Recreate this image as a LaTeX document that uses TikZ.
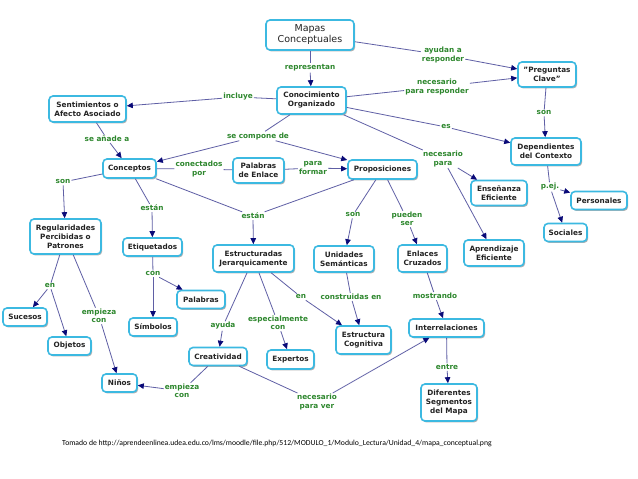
\documentclass[tikz,border=0pt]{standalone}
\usepackage{fontspec}
\setmainfont{DejaVu Sans}
\newfontfamily\calib{Carlito}
\usetikzlibrary{arrows.meta,shadows}
\definecolor{boxc}{RGB}{60,185,225}
\definecolor{linec}{RGB}{95,95,165}
\definecolor{arrc}{RGB}{10,10,120}
\definecolor{lblc}{RGB}{45,135,45}
\definecolor{txtc}{RGB}{35,35,35}
\begin{document}
\begin{tikzpicture}[x=1pt,y=-1pt,
  bx/.style 2 args={draw=boxc, line width=1.6pt, rounded corners=4pt, fill=white, text=txtc,
    font=\bfseries\fontsize{7.3}{9}\selectfont, align=center, minimum width=#1, minimum height=#2,
    inner sep=1pt, drop shadow={shadow xshift=1.2pt, shadow yshift=-1.4pt, opacity=0.3, fill=black}},
  lb/.style={text=lblc, font=\bfseries\fontsize{7.3}{8.5}\selectfont, align=center, inner sep=1pt, fill=white},
  ln/.style={draw=linec, line width=0.8pt},
  ar/.style={ln, -{Triangle[length=6pt,width=5.5pt,color=arrc]}},
]
\fill[white] (0,0) rectangle (638,479);
\useasboundingbox (0,0) rectangle (638,479);

% concept boxes
\node[bx={88}{30}, font=\fontsize{9.5}{11}\selectfont] (mapas) at (310,35) {Mapas\\Conceptuales};
\node[bx={69}{27}] (cono) at (311.5,100.5) {Conocimiento\\Organizado};
\node[bx={58}{25}] (preg) at (547,74.5) {\symbol{34}Preguntas\\Clave\symbol{34}};
\node[bx={77}{26}] (sent) at (87.5,109) {Sentimientos o\\Afecto Asociado};
\node[bx={70}{27}] (dep) at (546,151.5) {Dependientes\\del Contexto};
\node[bx={53}{19}] (conc) at (129.5,168.5) {Conceptos};
\node[bx={51}{25}] (pal) at (258.5,170.5) {Palabras\\de Enlace};
\node[bx={69}{19}] (prop) at (382.5,169.5) {Proposiciones};
\node[bx={56}{25}] (ens) at (499,193) {Enseñanza\\Eficiente};
\node[bx={56}{18}] (pers) at (599,200.5) {Personales};
\node[bx={43}{18}] (soc) at (565.5,232.5) {Sociales};
\node[bx={71}{35}] (reg) at (65.5,236.5) {Regularidades\\Percibidas o\\Patrones};
\node[bx={59}{18}] (etiq) at (152.5,247) {Etiquetados};
\node[bx={81}{27}] (estr) at (253.5,258.5) {Estructuradas\\Jerarquicamente};
\node[bx={60}{26}] (uni) at (344,259) {Unidades\\Semánticas};
\node[bx={49}{27}] (enl) at (422.5,258.5) {Enlaces\\Cruzados};
\node[bx={60}{26}] (apr) at (494,253) {Aprendizaje\\Eficiente};
\node[bx={44}{18}] (suc) at (25,317) {Sucesos};
\node[bx={43}{18}] (obj) at (69.5,346) {Objetos};
\node[bx={48}{18}] (palab) at (201,299.5) {Palabras};
\node[bx={48}{18}] (sim) at (153,327) {Símbolos};
\node[bx={58}{18}] (crea) at (218,356.5) {Creatividad};
\node[bx={47}{19}] (exp) at (290.5,359.5) {Expertos};
\node[bx={35}{18}] (ninos) at (119.5,383) {Niños};
\node[bx={55}{28}] (ecog) at (363.5,340) {Estructura\\Cognitiva};
\node[bx={75}{18}] (inter) at (446.5,328) {Interrelaciones};
\node[bx={56}{37}] (dif) at (449,402.5) {Diferentes\\Segmentos\\del Mapa};

% link labels
\node[lb] (lrep) at (310,68) {representan};
\node[lb] (layu) at (443,55) {ayudan a\\responder};
\node[lb] (lnecr) at (437,87) {necesario\\para responder};
\node[lb] (linc) at (238,97) {incluye};
\node[lb] (lsona) at (544,113) {son};
\node[lb] (les) at (446,127) {es};
\node[lb] (lana) at (107,139) {se añade a};
\node[lb] (lcomp) at (258,136) {se compone de};
\node[lb] (lnecp) at (443,159) {necesario\\para};
\node[lb] (lcpor) at (199,169) {conectados\\por};
\node[lb] (lpfor) at (313,168) {para\\formar};
\node[lb] (lsonb) at (63,182) {son};
\node[lb] (lesta) at (152,208) {están};
\node[lb] (lestb) at (253,216) {están};
\node[lb] (lsonc) at (353,215) {son};
\node[lb] (lpser) at (407,219) {pueden\\ser};
\node[lb] (lpej) at (550,187) {p.ej.};
\node[lb] (lcon) at (153,274) {con};
\node[lb] (lena) at (50,286) {en};
\node[lb] (lempa) at (99,316) {empieza\\con};
\node[lb] (layd) at (223,326) {ayuda};
\node[lb] (lesp) at (278,323) {especialmente\\con};
\node[lb] (lenb) at (301,297) {en};
\node[lb] (lcons) at (351,297) {construidas en};
\node[lb] (lmost) at (435,296) {mostrando};
\node[lb] (lentre) at (447,367) {entre};
\node[lb] (lempb) at (182,391) {empieza\\con};
\node[lb] (lnecv) at (317,402) {necesario\\para ver};

% connectors
\draw[ln] (mapas) -- (lrep); \draw[ar] (lrep) -- (cono);
\draw[ln] (mapas) -- (layu); \draw[ar] (layu) -- (preg);
\draw[ln] (cono) -- (lnecr); \draw[ar] (lnecr) -- (preg);
\draw[ln] (cono) -- (linc); \draw[ar] (linc) -- (sent);
\draw[ln] (preg) -- (lsona); \draw[ar] (lsona) -- (dep);
\draw[ln] (cono) -- (les); \draw[ar] (les) -- (dep);
\draw[ln] (sent) -- (lana); \draw[ar] (lana) -- (conc);
\draw[ln] (cono) -- (lcomp); \draw[ar] (lcomp) -- (conc); \draw[ar] (lcomp) -- (prop);
\draw[ln] (cono) -- (lnecp); \draw[ar] (lnecp) -- (ens); \draw[ar] (lnecp) -- (apr);
\draw[ln] (conc) -- (lcpor); \draw[ln] (lcpor) -- (pal);
\draw[ln] (pal) -- (lpfor); \draw[ar] (lpfor) -- (prop);
\draw[ln] (conc) -- (lsonb); \draw[ar] (lsonb) -- (reg);
\draw[ln] (conc) -- (lesta); \draw[ar] (lesta) -- (etiq);
\draw[ln] (conc) -- (lestb); \draw[ln] (prop) -- (lestb); \draw[ar] (lestb) -- (estr);
\draw[ln] (prop) -- (lsonc); \draw[ar] (lsonc) -- (uni);
\draw[ln] (prop) -- (lpser); \draw[ar] (lpser) -- (enl);
\draw[ln] (dep) -- (lpej); \draw[ar] (lpej) -- (pers); \draw[ar] (lpej) -- (soc);
\draw[ln] (etiq) -- (lcon); \draw[ar] (lcon) -- (sim); \draw[ar] (lcon) -- (palab);
\draw[ln] (reg) -- (lena); \draw[ar] (lena) -- (suc); \draw[ar] (lena) -- (obj);
\draw[ln] (reg) -- (lempa); \draw[ar] (lempa) -- (ninos);
\draw[ln] (estr) -- (layd); \draw[ar] (layd) -- (crea);
\draw[ln] (estr) -- (lesp); \draw[ar] (lesp) -- (exp);
\draw[ln] (estr) -- (lenb); \draw[ar] (lenb) -- (ecog);
\draw[ln] (uni) -- (lcons); \draw[ar] (lcons) -- (ecog);
\draw[ln] (enl) -- (lmost); \draw[ar] (lmost) -- (inter);
\draw[ln] (inter) -- (lentre); \draw[ar] (lentre) -- (dif);
\draw[ln] (crea) -- (lempb); \draw[ar] (lempb) -- (ninos);
\draw[ln] (crea) -- (lnecv); \draw[ar] (lnecv) -- (inter);

% source
\node[anchor=west, inner sep=0pt, font=\calib\fontsize{7.7}{9}\selectfont] (src) at (62,443)
  {Tomado de http://aprendeenlinea.udea.edu.co/lms/moodle/file.php/512/MODULO\_1/Modulo\_Lectura/Unidad\_4/mapa\_conceptual.png};
\end{tikzpicture}
\end{document}
